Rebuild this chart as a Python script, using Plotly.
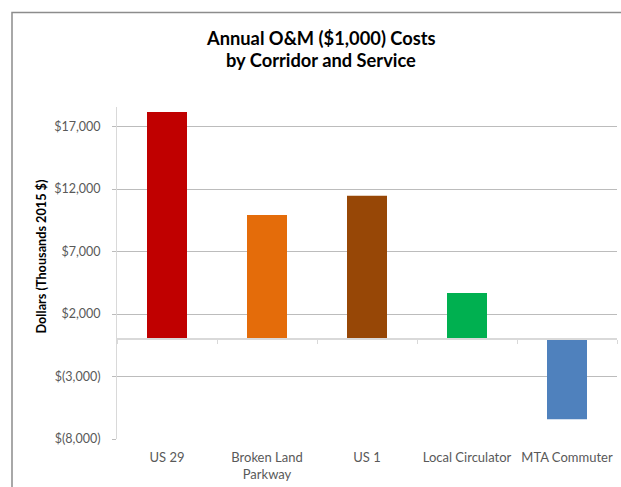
import plotly.graph_objects as go

# Annual O&M cost by corridor / service (thousands of 2015 dollars)
categories = ["US 29", "Broken Land<br>Parkway", "US 1", "Local Circulator", "MTA Commuter"]
costs = [18160, 9920, 11460, 3680, -6420]
bar_colors = ["#C00000", "#E46C0A", "#974706", "#00B050", "#4F81BD"]

title_lines = ["Annual O&M ($1,000) Costs", "by Corridor and Service"]
y_title = "Dollars (Thousands 2015 $)"

y_ticks = [-8000, -3000, 2000, 7000, 12000, 17000]
y_min, y_max = -8000, 18560


def money(v):
    return f"${v:,}" if v >= 0 else f"$({-v:,})"


y_ticktext = [money(v) for v in y_ticks]

FONT = "Lato, Open Sans, sans-serif"
GRID = "#bcbcbc"
AXIS = "#d9d9d9"

# plot area in pixels
L, R, T, B = 117, 617, 107, 439
W, H = R - L, B - T


def px_x(x):
    return (x - L) / W


def px_y(y):
    return (B - y) / H


fig = go.Figure()
fig.add_trace(go.Bar(
    x=categories, y=costs,
    marker=dict(color=bar_colors, line=dict(width=0)),
    showlegend=False, hoverinfo="x+y",
))
# invisible copy on the overlay axis so it carries the same categories
fig.add_trace(go.Scatter(
    x=categories, y=costs, xaxis="x2", mode="markers",
    marker=dict(opacity=0, size=1), showlegend=False, hoverinfo="skip",
))

zero_pos = (0 - y_min) / (y_max - y_min)

title_annotations = [
    dict(text=f"<b>{line}</b>", xref="paper", yref="paper",
         x=px_x(321), y=px_y(yc), xanchor="center", yanchor="middle",
         showarrow=False, font=dict(family=FONT, size=18.3, color="#000000"))
    for line, yc in zip(title_lines, [38, 60])
]

fig.update_layout(
    width=621, height=487,
    margin=dict(l=L, r=621 - R, t=T, b=487 - B),
    paper_bgcolor="white", plot_bgcolor="white",
    font=dict(family=FONT, color="#595959", size=12),
    bargap=0.6,
    xaxis=dict(
        type="category", range=[-0.5, 4.5],
        showline=False, ticks="", showgrid=False, zeroline=False,
        tickfont=dict(size=13, color="#595959"), ticklabelstandoff=9,
    ),
    xaxis2=dict(
        type="category", overlaying="x", anchor="free", position=zero_pos,
        range=[-0.5, 4.5], matches="x",
        showline=True, linecolor=AXIS, linewidth=1.5,
        ticks="outside", tickson="boundaries", ticklen=4, tickcolor=AXIS, tickwidth=1,
        showticklabels=False, showgrid=False, zeroline=False,
    ),
    yaxis=dict(
        range=[y_min, y_max], tickvals=y_ticks, ticktext=y_ticktext,
        showline=True, linecolor=AXIS, linewidth=1,
        ticks="outside", ticklen=4, tickcolor=GRID,
        showgrid=True, gridcolor=GRID, gridwidth=1,
        zeroline=False,
        tickfont=dict(size=12.5, color="#595959"), ticklabelstandoff=9,
    ),
    annotations=title_annotations + [dict(
        text=f"<b>{y_title}</b>",
        textangle=-90, xref="paper", yref="paper",
        x=px_x(40), y=px_y(256.5),
        xanchor="center", yanchor="middle", showarrow=False,
        font=dict(family=FONT, size=12.7, color="#000000"),
    )],
    shapes=[
        # chart-area frame (left and top edges)
        dict(type="path", xref="paper", yref="paper",
             path=f"M {px_x(12)},-0.3 L {px_x(12)},{px_y(12.5)} L 1.1,{px_y(12.5)}",
             line=dict(color="#8c8c8c", width=1.5)),
    ],
)

fig.write_html("out.html")
